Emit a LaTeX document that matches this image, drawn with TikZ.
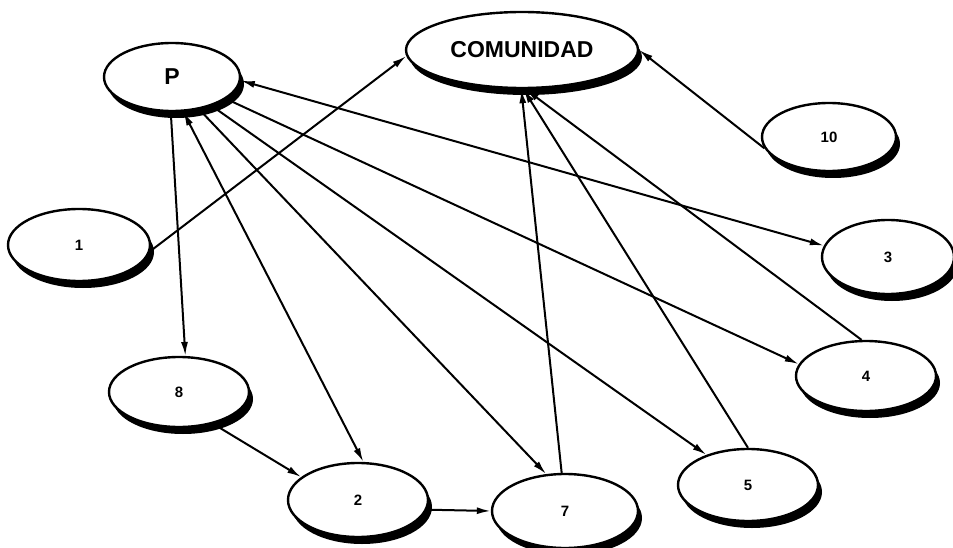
\documentclass[tikz,border=0pt]{standalone}
\usepackage{fontspec}
\setmainfont{Liberation Sans}
\usetikzlibrary{arrows.meta,shapes.geometric,shadows}
\begin{document}
\begin{tikzpicture}[x=1pt,y=-1pt,
  ell/.style={ellipse, draw=black, line width=2.4pt, fill=white, inner sep=0pt,
    drop shadow={shadow xshift=4pt, shadow yshift=-7pt, fill=black, opacity=1},
    font=\bfseries\fontsize{15}{17}\selectfont},
  big/.style={font=\bfseries\fontsize{23}{25}\selectfont},
  conn/.style={line width=2pt, -{Latex[length=14pt,width=7pt]}},
  bi/.style={line width=2pt, {Latex[length=14pt,width=7pt]}-{Latex[length=14pt,width=7pt]}},
]
\useasboundingbox (0,0) rectangle (953,548);
\fill[white] (0,0) rectangle (953,548);

\node[ell, big, minimum width=136pt, minimum height=68pt] (P) at (172,77) {P};
\node[ell, big, minimum width=232pt, minimum height=76pt] (C) at (522,50) {COMUNIDAD};
\node[ell, minimum width=134pt, minimum height=68pt] (n10) at (829,137) {10};
\node[ell, minimum width=142pt, minimum height=72pt] (n1) at (79,245) {1};
\node[ell, minimum width=132pt, minimum height=74pt] (n3) at (888,257) {3};
\node[ell, minimum width=140pt, minimum height=70pt] (n8) at (179,392) {8};
\node[ell, minimum width=140pt, minimum height=70pt] (n4) at (866,376) {4};
\node[ell, minimum width=140pt, minimum height=72pt] (n5) at (748,485) {5};
\node[ell, minimum width=140pt, minimum height=74pt] (n2) at (358,500) {2};
\node[ell, minimum width=146pt, minimum height=74pt] (n7) at (565,511) {7};

\draw[conn] (n1.355) -- (C.183);
\draw[conn] (n10.190) -- (C.0);
\draw[bi] (P.357) -- (n3.170);
\draw[conn] (P.338) -- (n4.170);
\draw[conn] (P.324) -- (n5.144);
\draw[conn] (P.310) -- (n7.117);
\draw[bi] (P.288) -- (n2.82);
\draw[conn] (P.268) -- (n8.80);
\draw[conn] (n8.317) -- (n2.158);
\draw[conn] (n2.352) -- (n7.180);
\draw[conn] (n7.95) -- (C.269);
\draw[conn] (n5.90) -- (C.272);
\draw[conn] (n4.97) -- (C.275);
\end{tikzpicture}
\end{document}
